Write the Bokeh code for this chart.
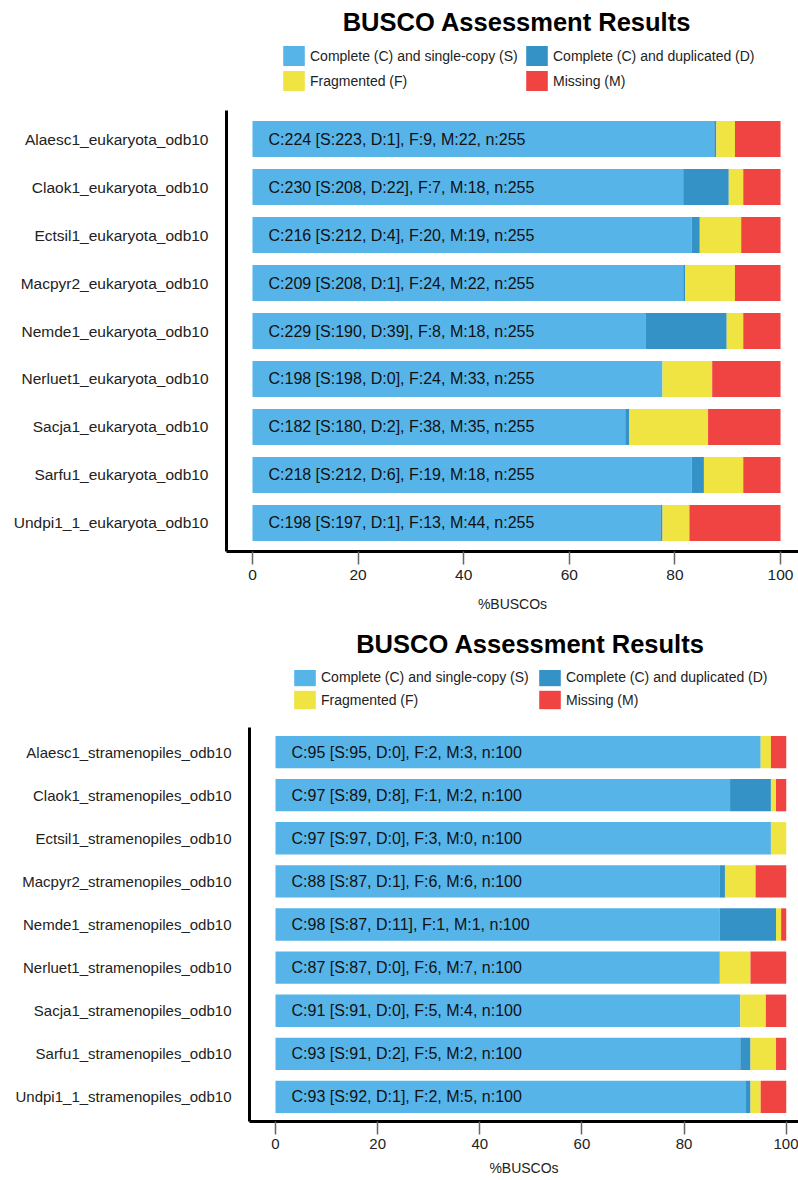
from bokeh.plotting import figure
from bokeh.models import (ColumnDataSource, FactorRange, Range1d, Legend, LegendItem,
                          FixedTicker)
from bokeh.core.properties import value
from bokeh.embed import file_html
from bokeh.resources import INLINE

# ---------------- data ----------------
euk_names = ["Alaesc1_eukaryota_odb10", "Claok1_eukaryota_odb10", "Ectsil1_eukaryota_odb10",
             "Macpyr2_eukaryota_odb10", "Nemde1_eukaryota_odb10", "Nerluet1_eukaryota_odb10",
             "Sacja1_eukaryota_odb10", "Sarfu1_eukaryota_odb10", "Undpi1_1_eukaryota_odb10"]
euk_S = [223, 208, 212, 208, 190, 198, 180, 212, 197]
euk_D = [1, 22, 4, 1, 39, 0, 2, 6, 1]
euk_F = [9, 7, 20, 24, 8, 24, 38, 19, 13]
euk_M = [22, 18, 19, 22, 18, 33, 35, 18, 44]
euk_n = 255

str_names = ["Alaesc1_stramenopiles_odb10", "Claok1_stramenopiles_odb10", "Ectsil1_stramenopiles_odb10",
             "Macpyr2_stramenopiles_odb10", "Nemde1_stramenopiles_odb10", "Nerluet1_stramenopiles_odb10",
             "Sacja1_stramenopiles_odb10", "Sarfu1_stramenopiles_odb10", "Undpi1_1_stramenopiles_odb10"]
str_S = [95, 89, 97, 87, 87, 87, 91, 91, 92]
str_D = [0, 8, 0, 1, 11, 0, 0, 2, 1]
str_F = [2, 1, 3, 6, 1, 6, 5, 5, 2]
str_M = [3, 2, 0, 6, 1, 7, 4, 2, 5]
str_n = 100

title_text = "BUSCO Assessment Results"
categories = ["Complete (C) and single-copy (S)", "Complete (C) and duplicated (D)",
              "Fragmented (F)", "Missing (M)"]
colors = ["#56B4E9", "#3492C7", "#F0E442", "#F04442"]
x_ticks = [0, 20, 40, 60, 80, 100]

FONT = "Liberation Sans"


def make_header(height, left, title_standoff, label_width, glyph_h, legend_loc):
    """Title + legend strip drawn above a chart."""
    h = figure(width=798, height=height, output_backend="svg", toolbar_location=None,
               x_axis_location=None, y_axis_location=None,
               x_range=Range1d(0, 1), y_range=Range1d(0, 1),
               min_border_left=left, min_border_right=0, min_border_top=0,
               min_border_bottom=0)
    h.xgrid.visible = False
    h.ygrid.visible = False
    h.outline_line_color = None
    h.title.text = title_text
    h.title.align = "center"
    h.title.standoff = title_standoff
    h.title.text_font = FONT
    h.title.text_font_size = "25.5px"
    h.title.text_font_style = "bold"
    h.title.text_color = "black"
    # zero-width swatch renderers for the legend (same colours as the stacked bars)
    sw = ColumnDataSource(dict(y=[0], left=[0], right=[0]))
    rs = [h.hbar(y="y", left="left", right="right", height=0.75, color=c,
                 line_color=None, source=sw) for c in colors]
    # legend laid out column-first: order so rows read S | D  and  F | M
    order = [0, 2, 1, 3]
    legend = Legend(items=[LegendItem(label=categories[i], renderers=[rs[i]]) for i in order],
                    ncols=2, glyph_width=27, glyph_height=glyph_h, spacing=0,
                    label_standoff=3, label_width=label_width, label_text_font=FONT,
                    label_text_font_size="14px", label_text_color="#222222",
                    border_line_color=None, background_fill_alpha=0,
                    padding=0, margin=0, location=legend_loc)
    h.add_layout(legend, "center")
    return h


def make_chart(names, S, D, F, M, n, height, left, bottom, xr, pad,
               ylab_size, xlab_size, xlab_standoff, axlab_standoff):
    pct = lambda arr: [100.0 * v / n for v in arr]
    labels = [f"C:{s + d} [S:{s}, D:{d}], F:{f}, M:{m}, n:{n}"
              for s, d, f, m in zip(S, D, F, M)]
    source = ColumnDataSource(dict(name=names, S=pct(S), D=pct(D), F=pct(F), M=pct(M),
                                   label=labels, zero=[0] * len(names)))
    p = figure(width=798, height=height, output_backend="svg", toolbar_location=None,
               y_range=FactorRange(factors=names[::-1], range_padding=pad,
                                   range_padding_units="absolute"),
               x_range=Range1d(*xr),
               min_border_left=left, min_border_right=0, min_border_top=0,
               min_border_bottom=bottom)
    p.hbar_stack(["S", "D", "F", "M"], y="name", height=0.75, color=colors,
                 line_color=None, source=source)
    p.text(x="zero", y="name", text="label", source=source, x_offset=16,
           text_baseline="middle", text_align="left", text_font_size="16px",
           text_font=value(FONT), text_color="#111111")

    p.xgrid.visible = False
    p.ygrid.visible = False
    p.outline_line_color = None

    p.yaxis.axis_line_width = 3
    p.yaxis.axis_line_color = "black"
    p.yaxis.major_tick_line_color = None
    p.yaxis.minor_tick_line_color = None
    p.yaxis.major_tick_out = 0
    p.yaxis.major_tick_in = 0
    p.yaxis.major_label_standoff = 18
    p.yaxis.major_label_text_font = FONT
    p.yaxis.major_label_text_font_size = ylab_size
    p.yaxis.major_label_text_color = "#222222"

    p.xaxis.ticker = FixedTicker(ticks=x_ticks)
    p.xaxis.axis_line_width = 3
    p.xaxis.axis_line_color = "black"
    p.xaxis.major_tick_line_color = "#666666"
    p.xaxis.major_tick_line_width = 1.5
    p.xaxis.major_tick_out = 13
    p.xaxis.major_tick_in = 0
    p.xaxis.minor_tick_line_color = None
    p.xaxis.major_label_standoff = xlab_standoff
    p.xaxis.major_label_text_font = FONT
    p.xaxis.major_label_text_font_size = xlab_size
    p.xaxis.major_label_text_color = "#222222"
    p.xaxis.axis_label = "%BUSCOs"
    p.xaxis.axis_label_text_font = FONT
    p.xaxis.axis_label_text_font_size = "14px"
    p.xaxis.axis_label_text_font_style = "normal"
    p.xaxis.axis_label_text_color = "#222222"
    p.xaxis.axis_label_standoff = axlab_standoff
    return p


h1 = make_header(height=110, left=235, title_standoff=10, label_width=213, glyph_h=25,
                 legend_loc=(45, 17))
p1 = make_chart(euk_names, euk_S, euk_D, euk_F, euk_M, euk_n, height=505, left=226,
                bottom=64, xr=(-4.92, 103.4), pad=0.095, ylab_size="15.5px",
                xlab_size="15.5px", xlab_standoff=5, axlab_standoff=13)
h2 = make_header(height=112, left=262, title_standoff=25, label_width=215, glyph_h=23,
                 legend_loc=(29, 16))
p2 = make_chart(str_names, str_S, str_D, str_F, str_M, str_n, height=453, left=249,
                bottom=59, xr=(-5.09, 102.4), pad=0.07, ylab_size="15px",
                xlab_size="15px", xlab_standoff=4, axlab_standoff=8)

open("out.html", "w").write(file_html([h1, p1, h2, p2], INLINE))
